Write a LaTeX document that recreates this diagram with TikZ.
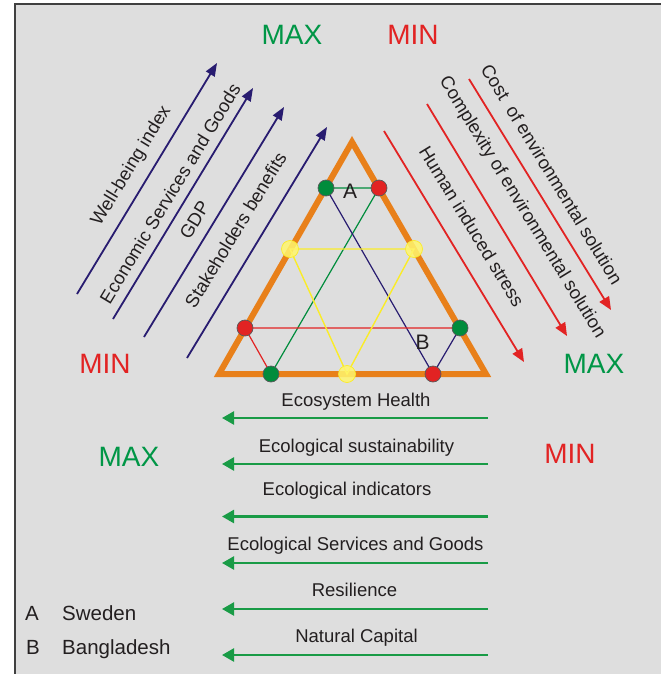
\documentclass[tikz,border=0pt]{standalone}
\usepackage{fontspec}
\setmainfont{Liberation Sans}
\usetikzlibrary{arrows.meta}
\definecolor{bg}{RGB}{222,222,222}
\definecolor{txt}{RGB}{35,31,32}
\definecolor{navy}{RGB}{40,28,112}
\definecolor{myred}{RGB}{226,35,35}
\definecolor{maxg}{RGB}{0,150,70}
\definecolor{arrg}{RGB}{25,155,70}
\definecolor{tri}{RGB}{232,128,26}
\definecolor{dotg}{RGB}{0,140,60}
\definecolor{doty}{RGB}{255,246,110}
\definecolor{liney}{RGB}{250,236,40}

\begin{document}
\begin{tikzpicture}[x=1pt,y=-1pt,
  lab/.style={font=\fontsize{18.5}{22}\selectfont, text=txt, inner sep=0pt},
  big/.style={font=\fontsize{28}{32}\selectfont, inner sep=0pt, anchor=base},
  navyarr/.style={draw=navy, line width=1.8pt, -{Triangle[length=13pt,width=10pt]}},
  redarr/.style={draw=myred, line width=1.8pt, -{Triangle[length=13pt,width=11pt]}},
  greenarr/.style={draw=arrg, line width=2.4pt, -{Triangle[length=12pt,width=13pt]}},
  dot/.style={circle, draw=black!65, line width=0.7pt, minimum size=16pt, inner sep=0pt},
  ydot/.style={circle, fill=doty, draw=liney, line width=0.7pt, minimum size=17pt, inner sep=0pt, fill opacity=0.85}]
\useasboundingbox (0,0) rectangle (661,674);
% Frame
\fill[bg] (15,4) rectangle (661,674);
\draw[line width=1.3pt, black!75] (15,674) -- (15,4) -- (661,4);

% MAX and MIN
\node[big, text=maxg] (maxtop) at (292,45) {MAX};
\node[big, text=myred] (mintop) at (413,45) {MIN};
\node[big, text=myred] (minleft) at (105,373) {MIN};
\node[big, text=maxg] (maxright) at (594,373) {MAX};
\node[big, text=maxg] (maxmid) at (129,466) {MAX};
\node[big, text=myred] (minmid) at (570,463) {MIN};

% Arrows left
\foreach \n/\xa/\ya/\xb/\yb in {1/77/294/217/63, 2/113/319/253/88, 3/144/337/284/107, 4/187/358/327/127}{
  \coordinate (l\n s) at (\xa,\ya);
  \coordinate (l\n e) at (\xb,\yb);
  \draw[navyarr] (l\n s) -- (l\n e);
}
\node[lab, rotate=58.7] (wbi) at (131.5,166) {Well-being index};
\node[lab, rotate=58.7] (esg) at (170,193.5) {Economic Services and Goods};
\node[lab, rotate=58.7] (gdp) at (194.5,220) {GDP};
\node[lab, rotate=58.7] (stb) at (235.5,230) {Stakeholders benefits};

% Arrows right
\foreach \n/\xa/\ya/\xb/\yb in {1/469/79/611/310, 2/427/104/567/336, 3/384/131/524/362}{
  \coordinate (r\n s) at (\xa,\ya);
  \coordinate (r\n e) at (\xb,\yb);
  \draw[redarr] (r\n s) -- (r\n e);
}
\node[lab, rotate=-58.6] (cost) at (552,174) {Cost\ \ of environmental solution};
\node[lab, rotate=-58.6] (cplx) at (522,207.5) {Complexity of environmental solution};
\node[lab, rotate=-58.6] (his) at (472,226.5) {Human induced stress};

% Triangle
\coordinate (T) at (352,142);
\coordinate (BL) at (219,374);
\coordinate (BR) at (486,374);
\draw[tri, line width=6pt, line join=miter] (T) -- (BL) -- (BR) -- cycle;

% Points
\coordinate (Ag) at (326,188);
\coordinate (Ar) at (379,188);
\coordinate (Yl) at (290,249);
\coordinate (Yr) at (414,249);
\coordinate (Yb) at (347,374);
\coordinate (Rl) at (245,328);
\coordinate (Gr) at (460,328);
\coordinate (Gb) at (271,374);
\coordinate (Rb) at (433,374);
\draw[dotg, line width=1.2pt] (Ag) -- (Ar) -- (Gb);
\draw[navy, line width=1.2pt] (Ag) -- (Rb) -- (Gr);
\draw[myred, line width=1.2pt] (Gr) -- (Rl) -- (Gb);
\draw[liney, line width=1.4pt] (Yl) -- (Yr) -- (Yb) -- cycle;
\foreach \p in {Ag,Gr,Gb}
  \node[dot, fill=dotg] at (\p) {};
\foreach \p in {Ar,Rl,Rb}
  \node[dot, fill=myred] at (\p) {};
\foreach \p in {Yl,Yr,Yb}
  \node[ydot] at (\p) {};
\node[lab, font=\fontsize{21}{24}\selectfont, anchor=base] (la) at (350,198) {A};
\node[lab, font=\fontsize{21}{24}\selectfont, anchor=base] (lb) at (422.5,349) {B};

% Arrows below
\foreach \n/\y/\ly/\lx/\t in {1/418/406.5/356/Ecosystem Health, 2/464/452.5/356.5/Ecological sustainability,
    3/516.5/495/347/Ecological indicators, 4/563/550/355.5/Ecological Services and Goods,
    5/609/596/354.5/Resilience, 6/655/642/356.5/Natural Capital}{
  \coordinate (gs\n) at (488,\y);
  \coordinate (ge\n) at (222,\y);
  \draw[greenarr] (gs\n) -- (ge\n);
  \node[lab, anchor=base] (gl\n) at (\lx,\ly) {\t};
}

% Legend
\node[lab, font=\fontsize{20.5}{24}\selectfont, anchor=base west] (ka) at (25,620.5) {A};
\node[lab, font=\fontsize{20.5}{24}\selectfont, anchor=base west] (na) at (62,620.5) {Sweden};
\node[lab, font=\fontsize{20.5}{24}\selectfont, anchor=base west] (kb) at (26,654) {B};
\node[lab, font=\fontsize{20.5}{24}\selectfont, anchor=base west] (nb) at (62,654) {Bangladesh};
\end{tikzpicture}
\end{document}
